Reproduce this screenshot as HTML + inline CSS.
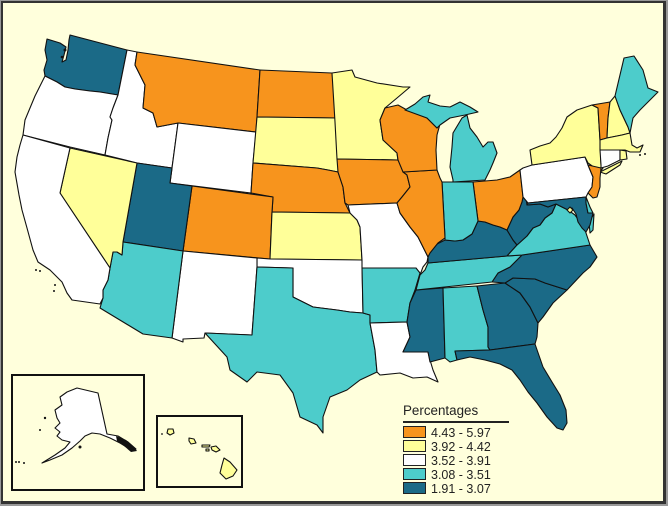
<!DOCTYPE html>
<html><head><meta charset="utf-8"><style>
html,body{margin:0;padding:0;background:#fff;}
svg{display:block;}
.s{stroke:#111;stroke-width:1.1;stroke-linejoin:round;}
.o{fill:#F7941D}.y{fill:#FFFF99}.w{fill:#FFFFFF}.c{fill:#4DCCCB}.d{fill:#1B6A87}
text{font-family:"Liberation Sans",Arial,sans-serif;fill:#222;}
</style></head><body>
<svg width="672" height="508" viewBox="0 0 672 508" xmlns="http://www.w3.org/2000/svg">
<rect x="0" y="0" width="668" height="506" fill="#999"/>
<rect x="1" y="1" width="665" height="503" fill="#333"/>
<rect x="3" y="3" width="660" height="498" fill="#FFFFDC"/>
<g class="s">
<!-- WA -->
<polygon class="d" points="47,39 60,43 66,47 64,55 62,62 66,60 68,50 69,40 70,35 127,50 118,95 100,92 90,91 75,89 65,87 57,82 45,76 44,70 47,60 45,50"/>
<!-- OR -->
<polygon class="w" points="45,76 57,82 65,87 75,89 90,91 100,92 118,95 113,108 110,117 112,120 108,138 105,155 70,147 23,135 25,120 30,108 35,96 42,82"/>
<!-- ID -->
<polygon class="w" points="127,50 137,52 135,65 145,85 143,108 153,113 157,127 178,123 172,168 137,163 105,155 108,138 112,120 110,117 113,108 118,95"/>
<!-- MT -->
<polygon class="o" points="137,52 260,70 257,117 256,132 178,123 157,127 153,113 143,108 145,85 135,65"/>
<!-- WY -->
<polygon class="w" points="178,123 256,132 253,163 251,193 170,183"/>
<!-- ND -->
<polygon class="o" points="260,70 332,73 335,95 337,118 257,117"/>
<!-- SD -->
<polygon class="y" points="257,117 337,118 337,145 338,160 338,172 328,170 317,168 253,163"/>
<!-- NE -->
<polygon class="o" points="253,163 317,168 328,170 338,172 343,187 345,203 350,213 272,212 273,197 251,193"/>
<!-- CO -->
<polygon class="o" points="192,186 273,197 272,212 270,259 183,251"/>
<!-- UT -->
<polygon class="d" points="137,163 172,168 170,183 192,186 183,251 123,242"/>
<!-- KS -->
<polygon class="y" points="272,212 350,213 357,220 360,227 362,260 270,259"/>
<!-- OK -->
<polygon class="w" points="257,258 270,259 362,260 363,313 350,312 337,310 313,307 293,297 293,268 257,267"/>
<!-- NM -->
<polygon class="w" points="183,251 257,258 257,267 252,335 205,333 204,338 183,339 183,342 172,338"/>
<!-- TX -->
<polygon class="c" points="257,267 293,268 293,297 313,307 337,310 350,312 363,313 370,315 370,323 375,350 377,372 360,380 347,390 330,397 323,417 323,433 317,425 300,417 293,393 280,375 257,372 247,382 230,370 227,357 205,333 252,335"/>
<!-- AZ -->
<polygon class="c" points="123,242 183,251 172,338 143,334 100,308 103,298 103,290 108,280 110,268 113,252 117,252 122,255"/>
<!-- NV -->
<polygon class="y" points="70,148 137,163 123,242 122,255 117,252 113,252 110,268 60,193"/>
<!-- CA -->
<polygon class="w" points="23,135 70,148 60,193 110,268 108,280 103,290 103,298 100,304 72,300 67,293 62,282 50,270 38,262 33,250 27,228 22,210 19,195 15,172 17,157 20,145"/>
<!-- MN -->
<polygon class="y" points="332,73 352,70 355,77 377,83 403,87 410,87 397,98 385,108 380,120 383,140 397,153 398,160 337,159 335,122"/>
<!-- IA -->
<polygon class="o" points="337,159 398,160 407,175 410,187 402,197 397,203 348,205 345,203 343,187 338,172"/>
<!-- MO -->
<polygon class="w" points="348,205 397,203 400,213 410,227 418,237 428,257 427,262 423,267 420,275 415,275 416,268 362,268 362,260 360,227 357,220 350,213"/>
<!-- AR -->
<polygon class="c" points="362,268 416,268 420,273 415,290 410,303 407,322 370,323 370,315 363,313"/>
<!-- LA -->
<polygon class="w" points="370,323 407,322 410,337 403,352 428,352 430,360 433,370 438,382 427,377 413,378 400,373 380,375 377,372 375,350"/>
<!-- MS -->
<polygon class="d" points="416,290 443,288 445,358 430,362 428,352 403,352 410,337 407,322 410,303"/>
<!-- AL -->
<polygon class="c" points="443,288 477,286 483,310 488,327 488,347 490,350 455,351 457,360 450,362 445,358"/>
<!-- GA -->
<polygon class="d" points="477,286 505,283 520,293 530,307 538,323 537,337 535,344 490,350 488,347 488,327 483,310"/>
<!-- FL -->
<polygon class="d" points="455,351 490,350 535,344 543,367 552,382 560,395 566,410 567,423 563,430 557,428 547,417 537,403 528,392 520,380 512,370 500,364 485,360 470,357 457,360"/>
<!-- SC -->
<polygon class="d" points="505,283 513,278 535,279 545,283 567,290 553,303 543,317 538,323 530,307 520,293"/>
<!-- NC -->
<polygon class="d" points="492,282 498,273 510,267 522,255 590,245 597,257 590,267 583,273 567,290 545,283 535,279 513,278 505,283"/>
<!-- TN -->
<polygon class="c" points="428,263 507,256 522,255 510,267 498,273 492,282 416,290 420,275 425,270"/>
<!-- KY -->
<polygon class="d" points="428,263 428,252 435,245 445,240 455,241 463,240 472,234 478,221 485,222 493,225 500,227 507,230 513,240 517,245 507,256"/>
<!-- VA -->
<polygon class="c" points="507,256 517,245 527,236 533,228 540,225 545,218 552,213 556,204 562,207 568,210 575,215 580,222 585,230 590,245 522,255"/>
<polygon class="c" points="589,222 594,214 593,230 590,233"/>
<!-- WV -->
<polygon class="d" points="507,230 513,217 519,210 522,198 526,198 527,205 540,204 548,207 556,204 552,213 545,218 540,225 533,228 527,236 517,245 513,240"/>
<!-- OH -->
<polygon class="o" points="473,182 485,181 497,180 510,177 520,170 523,197 522,202 519,210 513,217 507,230 500,227 493,225 485,222 478,221"/>
<!-- IN -->
<polygon class="c" points="442,182 473,182 478,221 472,234 463,240 455,241 445,240 445,238"/>
<!-- IL -->
<polygon class="o" points="403,172 437,170 440,178 442,182 445,238 438,243 430,253 428,257 418,237 410,227 400,213 397,203 402,197 410,187 407,175"/>
<!-- WI -->
<polygon class="o" points="385,108 398,105 407,110 427,118 437,128 440,124 437,135 436,150 437,170 403,172 398,160 397,153 383,140 380,120"/>
<!-- MI UP -->
<polygon class="c" points="405,110 415,104 423,97 430,95 428,102 440,106 450,107 460,102 470,107 478,112 465,115 450,118 440,125 437,128 427,118"/>
<!-- MI LP -->
<polygon class="c" points="453,182 453,180 450,167 452,147 453,133 462,118 467,115 470,128 477,137 483,147 488,142 493,142 497,153 493,163 490,170 485,180"/>
<!-- PA -->
<polygon class="w" points="523,168 532,165 585,157 588,165 593,177 592,187 588,193 586,197 528,203 523,197 520,170"/>
<!-- NY -->
<polygon class="y" points="532,165 530,150 540,146 550,143 556,137 562,128 567,117 577,110 592,105 598,108 600,140 601,165 603,168 600,172 595,168 588,163 585,157"/>
<polygon class="y" points="600,172 612,166 622,161 620,165 606,174"/>
<!-- VT -->
<polygon class="o" points="592,105 610,102 608,118 607,138 600,140 598,108"/>
<!-- NH -->
<polygon class="y" points="610,102 615,96 620,110 628,127 630,133 622,135 607,138 608,118"/>
<!-- ME -->
<polygon class="c" points="615,96 624,58 634,56 643,70 648,88 658,92 650,100 640,110 633,118 630,133 628,127 620,110"/>
<!-- MA -->
<polygon class="y" points="600,140 607,138 622,135 630,133 632,145 637,148 643,145 640,152 630,152 625,150 600,150"/>
<!-- CT -->
<polygon class="w" points="600,150 620,150 620,160 608,166 601,168 601,165"/>
<!-- RI -->
<polygon class="y" points="620,150 626,151 627,159 620,160"/>
<!-- NJ -->
<polygon class="o" points="588,165 601,168 600,178 600,187 597,197 593,198 588,193 592,187 593,177"/>
<!-- MD -->
<polygon class="d" points="528,203 586,197 586,203 588,213 593,213 590,225 586,232 582,228 578,222 576,214 572,208 568,210 562,207 556,204 548,207 540,204 527,205"/>
<!-- DE -->
<polygon class="c" points="586,197 590,207 593,213 588,213 586,203"/>
<!-- DC -->
<polygon class="y" points="570,207 573,210 570,213 567,210"/>
</g>
<!-- islands / details -->
<g fill="#111">
<circle cx="65" cy="50" r="1.5"/><circle cx="62" cy="57" r="1.3"/>
<circle cx="36" cy="270" r="1"/><circle cx="40" cy="271" r="1"/><circle cx="55" cy="285" r="1"/><circle cx="54" cy="291" r="1"/>
<circle cx="640" cy="155" r="1"/><circle cx="645" cy="154" r="1"/>
</g>
<!-- Alaska inset -->
<rect x="12" y="375" width="132" height="115" fill="none" stroke="#111" stroke-width="2"/>
<g class="s">
<polygon class="w" points="67,392 77,388 98,393 107,434 118,436 128,442 136,449 130,449 120,443 110,438 100,434 92,433 85,436 80,441 72,448 62,455 50,460 42,463 55,455 65,448 70,442 62,440 57,436 60,432 55,428 60,423 57,418 55,410 62,405 60,397"/>
</g>
<g fill="#111">
<path d="M116,436 L126,440 L134,447 L137,451 L131,452 L124,446 L117,441 Z"/>
<circle cx="16" cy="462" r="1"/><circle cx="19" cy="462" r="1"/><circle cx="24" cy="463" r="1"/>
<circle cx="45" cy="418" r="1.2"/><circle cx="40" cy="430" r="1"/><circle cx="80" cy="447" r="1.5"/>
</g>
<!-- Hawaii inset -->
<rect x="157" y="416" width="85" height="71" fill="none" stroke="#111" stroke-width="2"/>
<g class="s" stroke-width="0.9">
<polygon class="y" points="168,429 173,429 174,433 170,435 167,433"/>
<polygon class="y" points="189,438 194,439 196,443 191,444 189,441"/>
<polygon class="y" points="202,445 210,445 209,447 202,447"/>
<polygon class="y" points="211,447 216,446 220,450 216,452 212,450"/>
<polygon class="y" points="206,449 209,449 209,451 206,451"/>
<polygon class="y" points="224,458 230,462 237,470 233,476 226,479 220,473 222,465"/>
</g>
<circle cx="162" cy="434" r="0.9" fill="#111"/>
<!-- Legend -->
<text x="403" y="415" font-size="13.4">Percentages</text>
<line x1="403" y1="422" x2="509" y2="422" stroke="#222" stroke-width="2"/>
<g stroke="#222" stroke-width="1">
<rect x="403.5" y="426.5" width="22" height="11" fill="#F7941D"/>
<rect x="403.5" y="440.5" width="22" height="11" fill="#FFFF99"/>
<rect x="403.5" y="454.5" width="22" height="11" fill="#FFFFFF"/>
<rect x="403.5" y="468.5" width="22" height="11" fill="#4DCCCB"/>
<rect x="403.5" y="482.5" width="22" height="11" fill="#1B6A87"/>
</g>
<g font-size="12.5">
<text x="431" y="437">4.43 - 5.97</text>
<text x="431" y="451">3.92 - 4.42</text>
<text x="431" y="465">3.52 - 3.91</text>
<text x="431" y="479">3.08 - 3.51</text>
<text x="431" y="493">1.91 - 3.07</text>
</g>
</svg>
</body></html>
